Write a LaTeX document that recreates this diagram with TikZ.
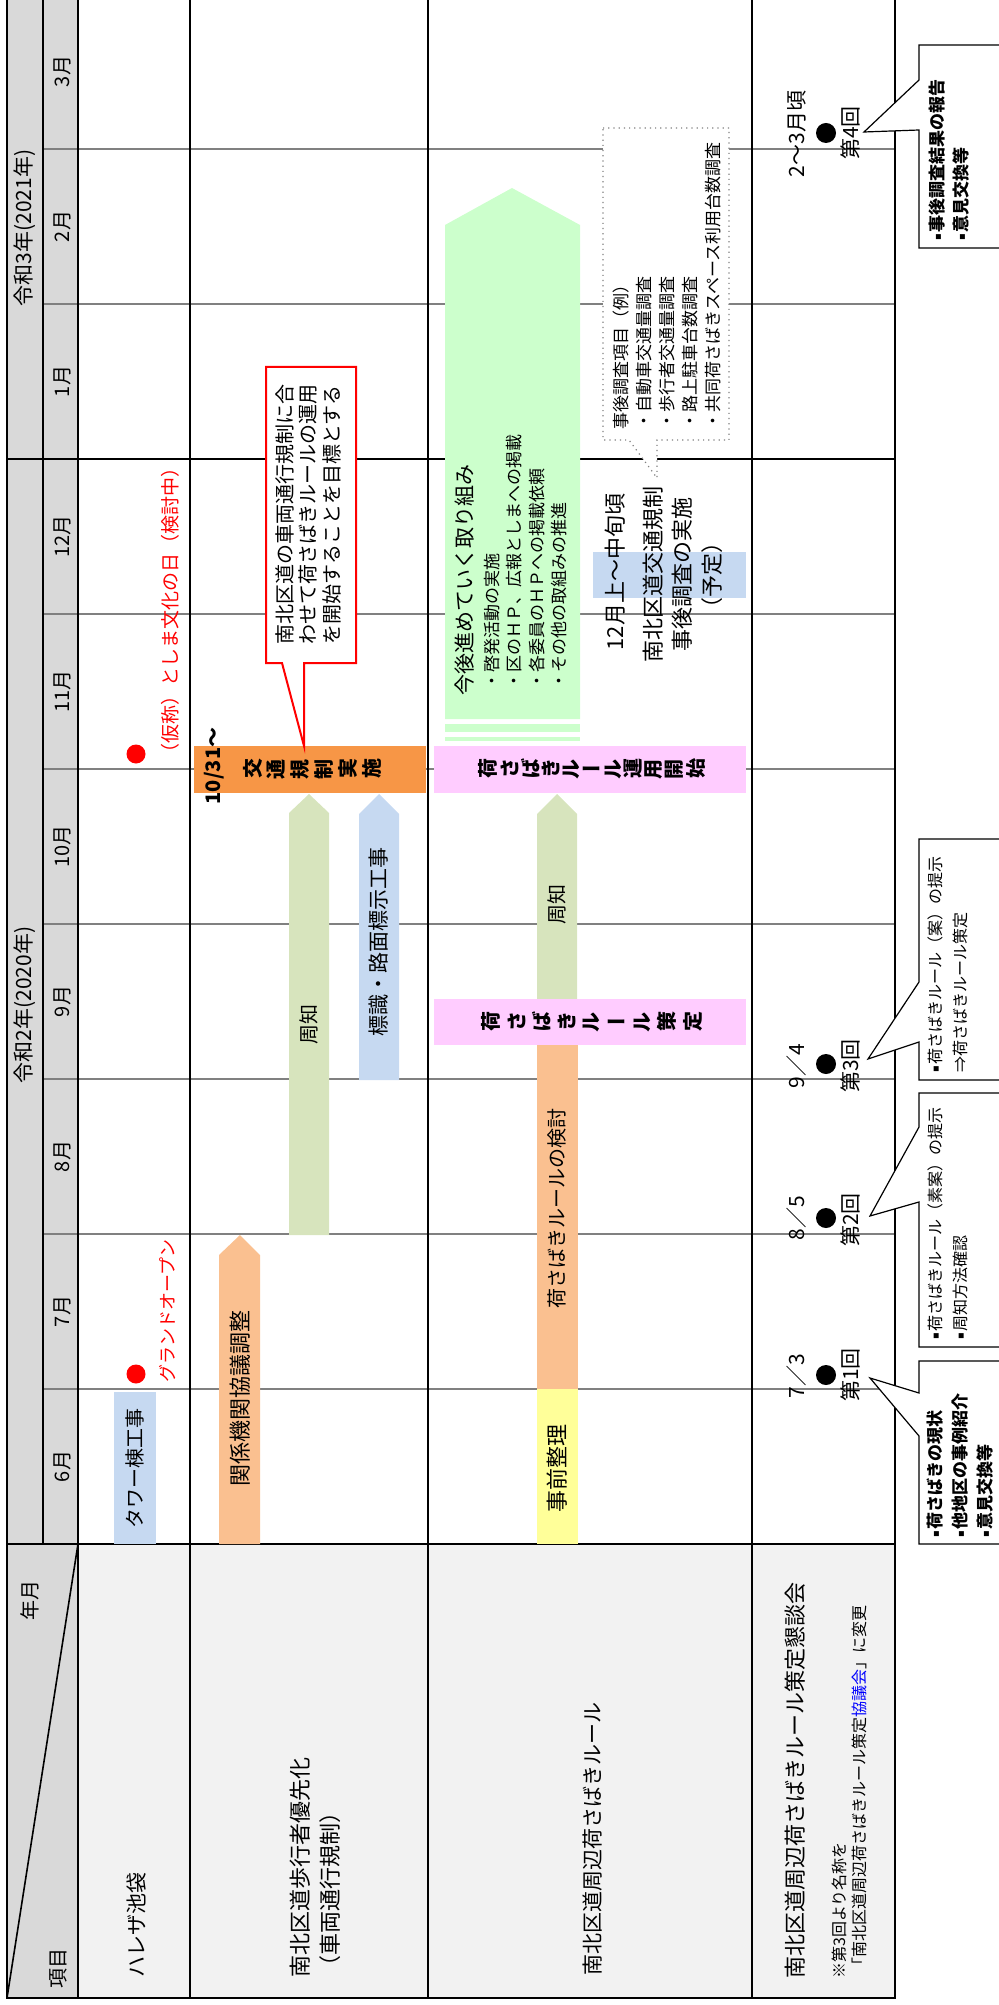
\documentclass[tikz,border=0pt]{standalone}
\usepackage{fontspec}
\setmainfont{Noto Sans CJK JP}
\newfontfamily\dejavu{DejaVu Sans}
\usepackage{graphicx}
\definecolor{hdrgray}{HTML}{D9D9D9}
\definecolor{rowgray}{HTML}{F2F2F2}
\definecolor{gridgray}{HTML}{808080}
\definecolor{cblue}{HTML}{C6D9F1}
\definecolor{corange}{HTML}{FAC090}
\definecolor{cdeep}{HTML}{F79646}
\definecolor{cgreen}{HTML}{D7E4BD}
\definecolor{clgreen}{HTML}{CCFFCC}
\definecolor{cpink}{HTML}{FFCCFF}
\definecolor{cyellow}{HTML}{FFFF99}
\newcommand\fsz[1]{\fontsize{#1}{#1}\selectfont}
\newcommand\sqb{\raisebox{0.25ex}{\dejavu\fontsize{5}{5}\selectfont ▪}\hspace{0.6pt}}
\newlength\tglsep
\newcommand\tgl[1]{\rotatebox[origin=c]{90}{#1}\hspace{\tglsep}}
\newcommand\tgllast[1]{\rotatebox[origin=c]{90}{#1}}
\newcommand\tglbar{ー\hspace{\tglsep}}
\begin{document}
\begin{tikzpicture}[x=0.5pt,y=-0.5pt,
  gridg/.style={draw=gridgray,line width=1.2pt},
  gridk/.style={draw=black,line width=1.3pt},
  vt/.style={rotate=90,inner sep=0pt},
  vtw/.style={vt,anchor=west},
  callk/.style={draw=black,line width=0.6pt,fill=white},
  dotk/.style={circle,fill=black,minimum size=10pt,inner sep=0pt},
  dotr/.style={circle,fill=red,minimum size=9.5pt,inner sep=0pt},
  tate/.style={inner sep=0pt,font=\bfseries\fsz{10}}]
\useasboundingbox (0,0) rectangle (999,2005);
% backgrounds
\fill[hdrgray] (7,-10) rectangle (78,1998);
\fill[rowgray] (78,1544) rectangle (895,1998);
% grid
\foreach \yy in {149,304,614,769,924,1079,1234,1389}{\draw[gridg] (43,\yy) -- (895,\yy);}
\draw[gridk] (7,459) -- (895,459);
\draw[gridk] (7,1544) -- (895,1544);
\draw[gridk] (6.35,1998) -- (895.65,1998);
\foreach \xx in {7,78,190,428,752,895}{\draw[gridk] (\xx,-10) -- (\xx,1998);}
\draw[gridk] (43,-10) -- (43,1544);
\draw[line width=0.8pt] (7,1998) -- (78,1544);
% header texts
\node[vt,font=\fsz{10}] (nengetsu) at (30,1600) {年月};
\node[vt,font=\fsz{10}] (komoku) at (58,1968) {項目};
\node[vt,font=\fsz{10.5}] (y2020) at (25,1005) {令和2年(2020年)};
\node[vt,font=\fsz{10.5}] (y2021) at (25,228) {令和3年(2021年)};
\foreach \m/\lab in {0/6月,1/7月,2/8月,3/9月,4/10月,5/11月,6/12月,7/1月,8/2月,9/3月}{
  \node[vt,font=\fsz{10}] (mon\m) at (62,{1544-155*(\m+0.5)}) {\lab};}
% row labels
\node[vtw,font=\fsz{10.5}] (r1) at (137,1978) {ハレザ池袋};
\node[vtw,font=\fsz{11}] (r2a) at (300,1978) {南北区道歩行者優先化};
\node[vtw,font=\fsz{11}] (r2b) at (330,1978) {（車両通行規制）};
\node[vtw,font=\fsz{10.5}] (r3) at (593,1976) {南北区道周辺荷さばきルール};
\node[vtw,font=\fsz{11}] (r4) at (795,1979) {南北区道周辺荷さばきルール策定懇談会};
\node[vtw,font=\fsz{8}] (r4n1) at (839,1979) {※第3回より名称を};
\node[vtw,font=\fsz{8}] (r4n2) at (859,1974) {「南北区道周辺荷さばきルール策定\textcolor{blue}{協議会}」に変更};
% row 1
\fill[cblue] (114,1392) rectangle (156,1544);
\node[vt,font=\fsz{10}] (tower) at (135,1468) {タワー棟工事};
\node[dotr] (rd1) at (136,1374) {};
\node[vtw,font=\fsz{9},text=red] (grand) at (168,1383) {グランドオープン};
\node[dotr] (rd2) at (136,754) {};
\node[vtw,font=\fsz{9.5},text=red] (bunka) at (170,763) {（仮称）としま文化の日（検討中）};
% row 2
\fill[corange] (219,1544) -- (219,1255) -- (240,1235) -- (260,1255) -- (260,1544) -- cycle;
\node[vt,font=\fsz{11}] (kankei) at (240,1398) {関係機関協議調整};
\fill[cgreen] (289,1235) -- (289,813) -- (309,794) -- (329,813) -- (329,1235) -- cycle;
\node[vt,font=\fsz{10}] (shuchi1) at (309,1024) {周知};
\fill[cblue] (359,1080) -- (359,814) -- (379,794) -- (399,814) -- (399,1080) -- cycle;
\node[vt,font=\fsz{10.5}] (hyoshiki) at (379,942) {標識・路面標示工事};
\fill[cdeep] (194,746) rectangle (426,793);
\node[tate] (kisei) at (312,769) {\setlength\tglsep{2.5pt}\tgl{交}\tgl{通}\tgl{規}\tgl{制}\tgl{実}\tgllast{施}};
\node[vt,font=\bfseries\fsz{10}] (d1031) at (214,766) {10/31〜};
\draw[draw=red,line width=1pt,fill=white] (266,367) -- (356,367) -- (356,663) -- (304,663) -- (304,746) -- (282,663) -- (266,663) -- cycle;
\node[vtw,font=\fsz{10}] (rc1) at (285,645) {南北区道の車両通行規制に合};
\node[vtw,font=\fsz{10}] (rc2) at (308,645) {わせて荷さばきルールの運用};
\node[vtw,font=\fsz{10}] (rc3) at (332,645) {を開始することを目標とする};
% row 3
\fill[cyellow] (537,1389) rectangle (578,1544);
\node[vt,font=\fsz{11}] (jizen) at (557,1468) {事前整理};
\fill[corange] (537,1045) rectangle (578,1389);
\node[vt,font=\fsz{10}] (kento) at (557,1208) {荷さばきルールの検討};
\fill[cgreen] (537,999) -- (537,814) -- (557,794) -- (577,814) -- (577,999) -- cycle;
\node[vt,font=\fsz{10}] (shuchi2) at (557,904) {周知};
\fill[cpink] (434,999) rectangle (746,1045);
\node[tate] (sakutei) at (592,1022) {\setlength\tglsep{3.5pt}\tgl{荷}\tgl{さ}\tgl{ば}\tgl{き}\tgl{ル}\tglbar\tgl{ル}\tgl{策}\tgllast{定}};
\fill[cpink] (434,746) rectangle (746,793);
\node[tate] (unyo) at (592,769) {\setlength\tglsep{1.3pt}\tgl{荷}\tgl{さ}\tgl{ば}\tgl{き}\tgl{ル}\tglbar\tgl{ル}\tgl{運}\tgl{用}\tgl{開}\tgllast{始}};
\fill[clgreen] (445,719) -- (445,225) -- (512,188) -- (580,225) -- (580,719) -- cycle;
\fill[clgreen] (445,724) rectangle (580,732);
\fill[clgreen] (445,737) rectangle (580,741);
\node[vtw,font=\fsz{10.5}] (kongo) at (465,696) {今後進めていく取り組み};
\node[vtw,font=\fsz{8.5}] (kb1) at (492,690) {・啓発活動の実施};
\node[vtw,font=\fsz{8.5}] (kb2) at (514,690) {・区のＨＰ、広報としまへの掲載};
\node[vtw,font=\fsz{8.5}] (kb3) at (537,690) {・各委員のＨＰへの掲載依頼};
\node[vtw,font=\fsz{8.5}] (kb4) at (559,690) {・その他の取組みの推進};
\draw[draw=gridgray,dotted,line width=0.6pt,fill=white] (603,128) -- (729,128) -- (729,440) -- (657,440) -- (657,478) -- (629,440) -- (603,440) -- cycle;
\node[vtw,font=\fsz{8.5}] (ch1) at (621,430) {事後調査項目（例）};
\node[vtw,font=\fsz{8.5}] (ch2) at (644,430) {・自動車交通量調査};
\node[vtw,font=\fsz{8.5}] (ch3) at (667,430) {・歩行者交通量調査};
\node[vtw,font=\fsz{8.5}] (ch4) at (690,430) {・路上駐車台数調査};
\node[vtw,font=\fsz{8.5}] (ch5) at (713,430) {・共同荷さばきスペース利用台数調査};
\fill[cblue] (593,552) rectangle (746,598);
\node[vt,font=\fsz{11}] (dec1) at (615,572) {12月上〜中旬頃};
\node[vt,font=\fsz{11}] (dec2) at (653,574) {南北区道交通規制};
\node[vt,font=\fsz{11}] (dec3) at (682,574) {事後調査の実施};
\node[vt,font=\fsz{11}] (dec4) at (712,575) {（予定）};
% row 4
\node[dotk] (m1) at (826,1375) {};
\node[vt,font=\fsz{10.5}] (m1d) at (797,1376) {7／3};
\node[vt,font=\fsz{10.5}] (m1n) at (850,1375) {第1回};
\node[dotk] (m2) at (826,1218) {};
\node[vt,font=\fsz{10.5}] (m2d) at (797,1218) {8／5};
\node[vt,font=\fsz{10.5}] (m2n) at (850,1220) {第2回};
\node[dotk] (m3) at (826,1064) {};
\node[vt,font=\fsz{10.5}] (m3d) at (797,1066) {9／4};
\node[vt,font=\fsz{10.5}] (m3n) at (850,1066) {第3回};
\node[dotk] (m4) at (826,133) {};
\node[vt,font=\fsz{10.5}] (m4d) at (797,134) {2〜3月頃};
\node[vt,font=\fsz{10.5}] (m4n) at (850,133) {第4回};
\draw[callk] (1010,1361) -- (919,1361) -- (919,1393) -- (870,1378) -- (919,1436) -- (919,1544) -- (1010,1544) -- cycle;
\node[vtw,font=\bfseries\fsz{8.5}] (ca1) at (935,1538) {\sqb 荷さばきの現状};
\node[vtw,font=\bfseries\fsz{8.5}] (ca2) at (960,1538) {\sqb 他地区の事例紹介};
\node[vtw,font=\bfseries\fsz{8.5}] (ca3) at (985,1538) {\sqb 意見交換等};
\draw[callk] (1010,1093) -- (919,1093) -- (919,1127) -- (870,1216) -- (919,1202) -- (919,1347) -- (1010,1347) -- cycle;
\node[vtw,font=\fsz{8}] (cb1) at (935,1340) {\sqb 荷さばきルール（素案）の提示};
\node[vtw,font=\fsz{8}] (cb2) at (960,1340) {\sqb 周知方法確認};
\draw[callk] (1010,839) -- (919,839) -- (919,982) -- (868,1059) -- (919,1042) -- (919,1080) -- (1010,1080) -- cycle;
\node[vtw,font=\fsz{8}] (cc1) at (935,1073) {\sqb 荷さばきルール（案）の提示};
\node[vtw,font=\fsz{8}] (cc2) at (960,1073) {⇒荷さばきルール策定};
\draw[callk] (1010,45) -- (919,45) -- (919,80) -- (864,132) -- (919,130) -- (919,248) -- (1010,248) -- cycle;
\node[vtw,font=\bfseries\fsz{8.5}] (cd1) at (937,241) {\sqb 事後調査結果の報告};
\node[vtw,font=\bfseries\fsz{8.5}] (cd2) at (961,241) {\sqb 意見交換等};
\end{tikzpicture}
\end{document}
